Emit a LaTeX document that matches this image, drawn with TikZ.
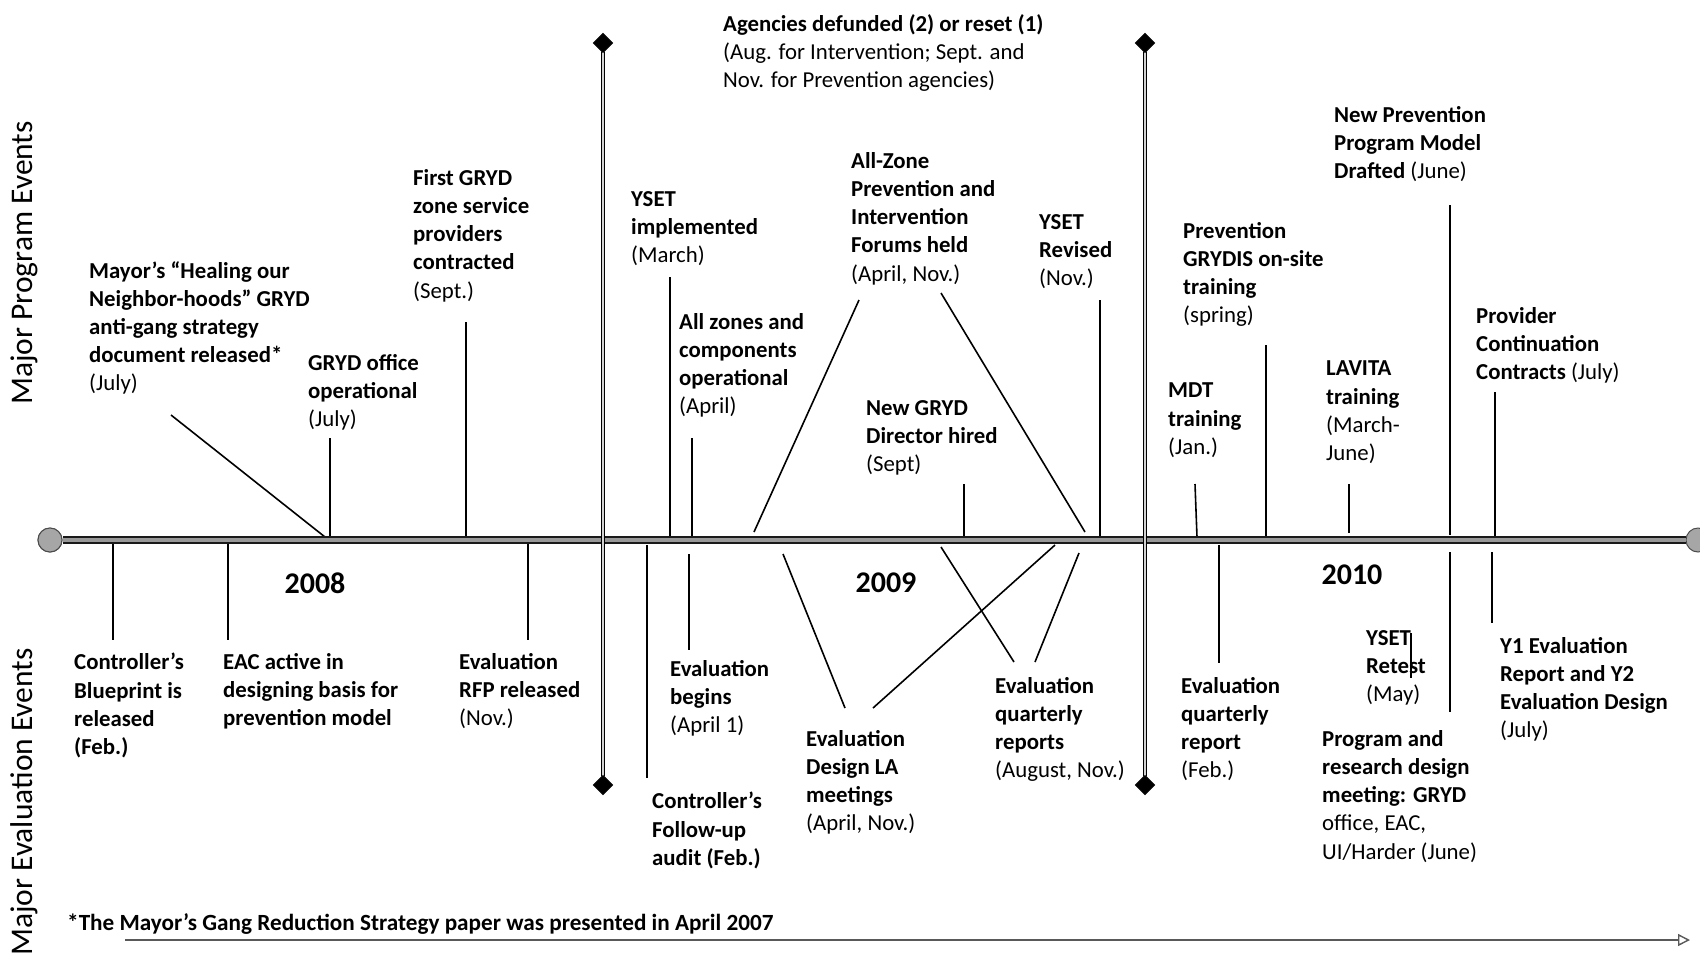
\documentclass[tikz,border=0pt]{standalone}
\usepackage{fontspec}
\setmainfont{Carlito}
\usetikzlibrary{shapes.geometric,arrows.meta}
\newcommand{\dte}[1]{{\mdseries #1}}
\begin{document}
\begin{tikzpicture}[x=1pt,y=-1pt,
  lbl/.style={anchor=north west, inner sep=0pt, align=left,
    font=\fontsize{22.8}{28.2}\selectfont\bfseries, execute at begin node=\strut},
  yearlbl/.style={inner sep=0pt, font=\fontsize{30}{34}\selectfont\bfseries},
  sidelbl/.style={inner sep=0pt, rotate=90, font=\fontsize{31.5}{36}\selectfont},
  conn/.style={draw=black, line width=1.6pt},
  mainline/.style={draw=black!90, line width=1.6pt, double=gray!65!black!60, double distance=4.2pt},
  dline/.style={draw=black, line width=1.2pt, double=gray!35, double distance=2.4pt},
  dia/.style={diamond, fill=black, draw=black!80, inner sep=0pt, minimum size=20pt},
  endcirc/.style={circle, fill=gray!70, draw=black!70, line width=1pt, inner sep=0pt, minimum size=24pt}
]
\useasboundingbox (0,0) rectangle (1700,954);
\fill[white] (0,0) rectangle (1700,954);

% side labels
\node[sidelbl] (sideP) at (24,263) {Major Program Events};
\node[sidelbl] (sideE) at (24,802) {Major Evaluation Events};

% top labels
\node[lbl] (mayor) at (89,261) {Mayor’s “Healing our\\Neighbor-hoods” GRYD\\anti-gang strategy\\document released*\\\dte{(July)}};
\node[lbl] (office) at (308,354) {GRYD office\\operational\\\dte{(July)}};
\node[lbl] (first) at (413,169) {First GRYD\\zone service\\providers\\contracted\\\dte{(Sept.)}};
\node[lbl] (agencies) at (723,14) {Agencies defunded (2) or reset (1)\\\dte{(Aug. for Intervention; Sept. and}\\\dte{Nov. for Prevention agencies)}};
\node[lbl] (ysetimpl) at (631,191) {YSET\\implemented\\\dte{(March)}};
\node[lbl] (allzones) at (679,313) {All zones and\\components\\operational\\\dte{(April)}};
\node[lbl] (forums) at (851,152) {All-Zone\\Prevention and\\Intervention\\Forums held\\\dte{(April, Nov.)}};
\node[lbl] (director) at (866,400) {New GRYD\\Director hired\\\dte{(Sept)}};
\node[lbl] (ysetrev) at (1039,214) {YSET\\Revised\\\dte{(Nov.)}};
\node[lbl] (newprev) at (1334,106) {New Prevention\\Program Model\\Drafted \dte{(June)}};
\node[lbl] (grydis) at (1183,222) {Prevention\\GRYDIS on-site\\training\\\dte{(spring)}};
\node[lbl] (mdt) at (1168,383) {MDT\\training\\\dte{(Jan.)}};
\node[lbl] (lavita) at (1326,361) {LAVITA\\training\\\dte{(March-}\\\dte{June)}};
\node[lbl] (provider) at (1476,307) {Provider\\Continuation\\Contracts \dte{(July)}};

% bottom labels
\node[lbl] (blueprint) at (74,653) {Controller’s\\Blueprint is\\released\\(Feb.)};
\node[lbl] (eac) at (223,653) {EAC active in\\designing basis for\\prevention model};
\node[lbl] (rfp) at (459,653) {Evaluation\\RFP released\\\dte{(Nov.)}};
\node[lbl] (begins) at (670,660) {Evaluation\\begins\\\dte{(April 1)}};
\node[lbl] (followup) at (652,792) {Controller’s\\Follow-up\\audit (Feb.)};
\node[lbl] (design) at (806,730) {Evaluation\\Design LA\\meetings\\\dte{(April, Nov.)}};
\node[lbl] (qreports) at (995,677) {Evaluation\\quarterly\\reports\\\dte{(August, Nov.)}};
\node[lbl] (qreport) at (1181,677) {Evaluation\\quarterly\\report\\\dte{(Feb.)}};
\node[lbl] (retest) at (1366,630) {YSET\\Retest\\\dte{(May)}};
\node[lbl] (meeting) at (1322,730) {Program and\\research design\\meeting: GRYD\\\dte{office, EAC,}\\\dte{UI/Harder (June)}};
\node[lbl] (yone) at (1500,637) {Y1 Evaluation\\Report and Y2\\Evaluation Design\\\dte{(July)}};

% years
\node[yearlbl] (y2008) at (315,583) {2008};
\node[yearlbl] (y2009) at (886,583) {2009};
\node[yearlbl] (y2010) at (1352,575) {2010};

% connector end points
\coordinate (c1a) at (171,415); \coordinate (c1b) at (325,537);
\coordinate (c2a) at (330,438); \coordinate (c2b) at (330,537);
\coordinate (c3a) at (466,322); \coordinate (c3b) at (466,537);
\coordinate (c5a) at (670,277); \coordinate (c5b) at (670,537);
\coordinate (c6a) at (692,438); \coordinate (c6b) at (692,537);
\coordinate (c7a) at (859,300); \coordinate (c7b) at (754,532);
\coordinate (c7c) at (941,293); \coordinate (c7d) at (1085,532);
\coordinate (c8a) at (964,484); \coordinate (c8b) at (964,537);
\coordinate (c9a) at (1100,300); \coordinate (c9b) at (1100,537);
\coordinate (c10a) at (1450,205); \coordinate (c10b) at (1450,535);
\coordinate (c11a) at (1266,345); \coordinate (c11b) at (1266,537);
\coordinate (c12a) at (1195,484); \coordinate (c12b) at (1197,537);
\coordinate (c13a) at (1349,484); \coordinate (c13b) at (1349,533);
\coordinate (c14a) at (1495,392); \coordinate (c14b) at (1495,537);
\coordinate (c15a) at (113,543); \coordinate (c15b) at (113,640);
\coordinate (c16a) at (228,543); \coordinate (c16b) at (228,640);
\coordinate (c17a) at (528,543); \coordinate (c17b) at (528,640);
\coordinate (c18a) at (689,554); \coordinate (c18b) at (689,650);
\coordinate (c19a) at (647,545); \coordinate (c19b) at (647,778);
\coordinate (c20a) at (783,554); \coordinate (c20b) at (845,708);
\coordinate (c20c) at (873,708); \coordinate (c20d) at (1055,545);
\coordinate (c21a) at (941,547); \coordinate (c21b) at (1014,662);
\coordinate (c21c) at (1079,553); \coordinate (c21d) at (1035,662);
\coordinate (c22a) at (1219,545); \coordinate (c22b) at (1219,663);
\coordinate (c23a) at (1411,633); \coordinate (c23b) at (1411,678);
\coordinate (c24a) at (1450,552); \coordinate (c24b) at (1450,712);
\coordinate (c25a) at (1492,552); \coordinate (c25b) at (1492,623);

\draw[conn] (c1a) -- (c1b);
\draw[conn] (c2a) -- (c2b);
\draw[conn] (c3a) -- (c3b);
\draw[conn] (c5a) -- (c5b);
\draw[conn] (c6a) -- (c6b);
\draw[conn] (c7a) -- (c7b);
\draw[conn] (c7c) -- (c7d);
\draw[conn] (c8a) -- (c8b);
\draw[conn] (c9a) -- (c9b);
\draw[conn] (c10a) -- (c10b);
\draw[conn] (c11a) -- (c11b);
\draw[conn] (c12a) -- (c12b);
\draw[conn] (c13a) -- (c13b);
\draw[conn] (c14a) -- (c14b);
\draw[conn] (c15a) -- (c15b);
\draw[conn] (c16a) -- (c16b);
\draw[conn] (c17a) -- (c17b);
\draw[conn] (c18a) -- (c18b);
\draw[conn] (c19a) -- (c19b);
\draw[conn] (c20a) -- (c20b);
\draw[conn] (c20c) -- (c20d);
\draw[conn] (c21a) -- (c21b);
\draw[conn] (c21c) -- (c21d);
\draw[conn] (c22a) -- (c22b);
\draw[conn] (c23a) -- (c23b);
\draw[conn] (c24a) -- (c24b);
\draw[conn] (c25a) -- (c25b);

% main time line
\node[endcirc] (startc) at (50,540) {};
\node[endcirc] (endc) at (1698,540) {};
\draw[mainline] (startc.east) -- (endc.west);
\node[endcirc] at (startc) {};

% year dividers
\node[dia] (dAt) at (603,43) {};
\node[dia] (dAb) at (603,785) {};
\node[dia] (dBt) at (1145,43) {};
\node[dia] (dBb) at (1145,785) {};
\draw[dline] (dAt.center) -- (dAb.center);
\draw[dline] (dBt.center) -- (dBb.center);
\node[dia] at (dAt) {};
\node[dia] at (dAb) {};
\node[dia] at (dBt) {};
\node[dia] at (dBb) {};

% footnote
\node[anchor=west, inner sep=0pt, font=\fontsize{23.2}{27}\selectfont\bfseries] (foot) at (67,924)
  {*The Mayor’s Gang Reduction Strategy paper was presented in April 2007};
\coordinate (fa) at (125,940);
\coordinate (fb) at (1690,940);
\draw[draw=gray!70!black, line width=1.4pt, -{Triangle[open, length=12pt, width=12pt]}] (fa) -- (fb);
\end{tikzpicture}
\end{document}
